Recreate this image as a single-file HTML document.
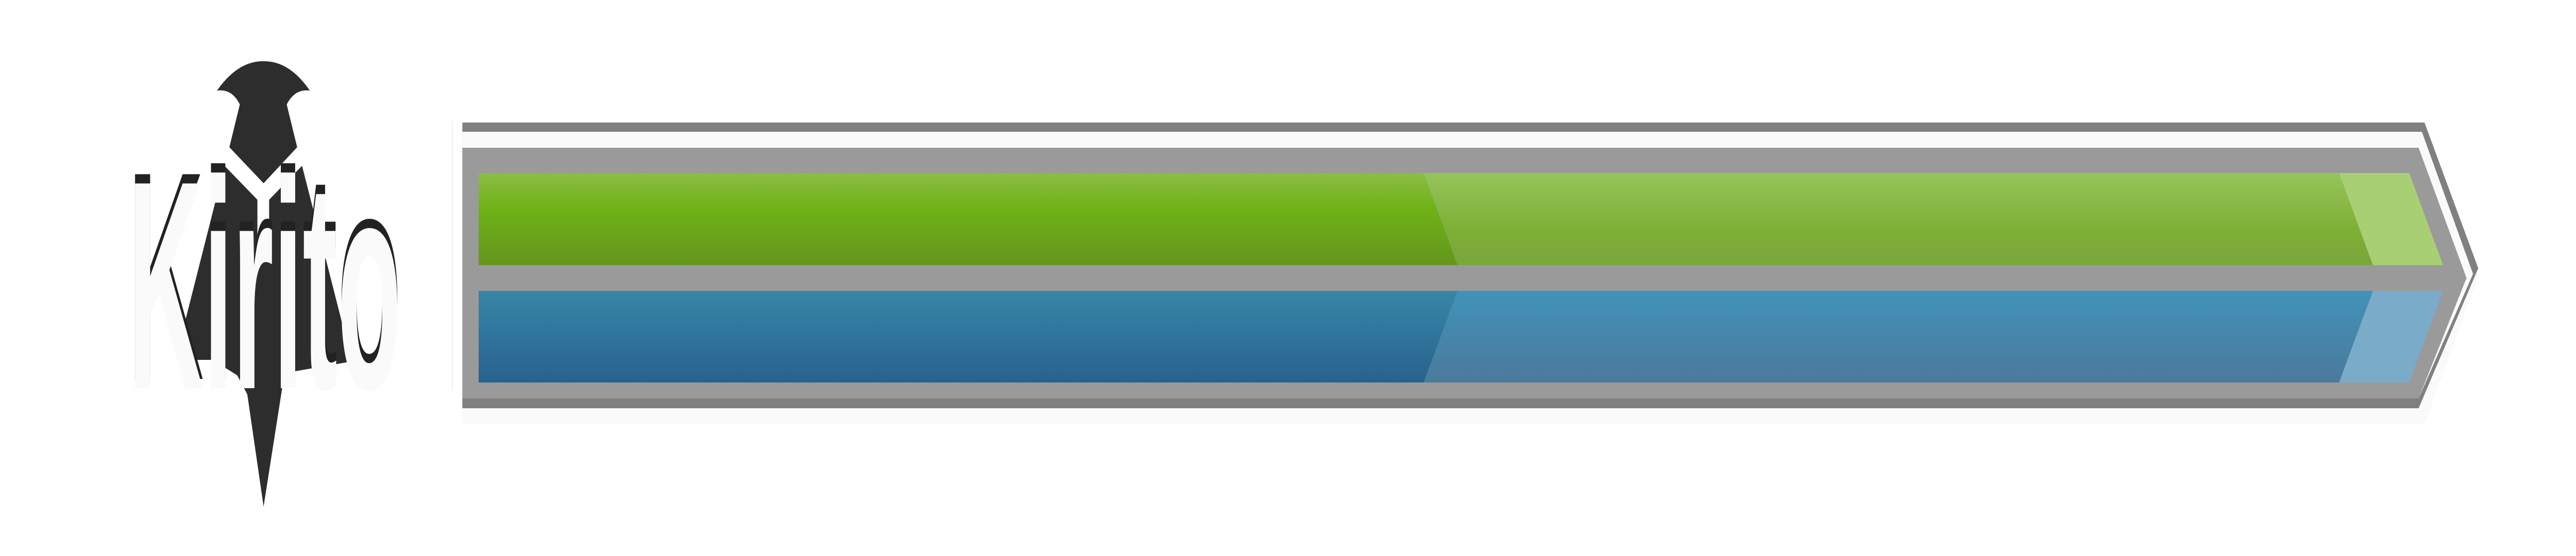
<!DOCTYPE html>
<html><head><meta charset="utf-8"><title>Kirito progress</title>
<style>html,body{margin:0;padding:0;background:#fff;width:100%;height:100%;overflow:hidden;}svg{display:block;width:100vw;height:100vh;}</style></head>
<body>
<svg id="chart" xmlns="http://www.w3.org/2000/svg" viewBox="0 0 7906 1080" preserveAspectRatio="none">
<defs>
<linearGradient id="gDark" x1="0" y1="0" x2="0" y2="1"><stop offset="0" stop-color="#8bbd45"/><stop offset="0.38" stop-color="#6fb317"/><stop offset="1" stop-color="#64951f"/></linearGradient>
<linearGradient id="gMid" x1="0" y1="0" x2="0" y2="1"><stop offset="0" stop-color="#96c45c"/><stop offset="0.6" stop-color="#7fb035"/><stop offset="1" stop-color="#7aa63e"/></linearGradient>
<linearGradient id="bDark" x1="0" y1="0" x2="0" y2="1"><stop offset="0" stop-color="#3886a8"/><stop offset="1" stop-color="#27628e"/></linearGradient>
<linearGradient id="bMid" x1="0" y1="0" x2="0" y2="1"><stop offset="0" stop-color="#4192b9"/><stop offset="1" stop-color="#4b7a9b"/></linearGradient>
</defs>
<g>
<path fill="#2d2d2d" d="M666 176 Q730 118 809 119 Q888 118 951 176 Q905 172 880 203 L736 203 Q712 172 666 176 Z"/>
<polygon fill="#2d2d2d" points="736,203 880,203 912,286 809,356 704,286"/>
<polygon fill="#2d2d2d" points="689,322 790,388 790,499 826,499 826,388 927,322 1080,702 889,723 866,754 809,984 759,766 728,729 652,699 552,699 549,672"/>
<text x="393" y="736" font-family="Liberation Sans, sans-serif" font-weight="bold" font-size="578" textLength="839" lengthAdjust="spacingAndGlyphs" fill="#222">Kirito</text>
<text x="393" y="754" font-family="Liberation Sans, sans-serif" font-weight="bold" font-size="578" textLength="839" lengthAdjust="spacingAndGlyphs" fill="#fafafa">Kirito</text>
</g>
<rect x="1387" y="234" width="2" height="525" fill="#e4e4e4"/>
<g>
<polygon fill="#fafafa" points="1419,256 7441,256 7606,538 7441,824 1419,824"/>
<polygon fill="#808080" points="1419,238 7441,238 7606,521 7423,793 1419,793"/>
<polygon fill="#fafafa" points="1419,256 7433,256 7590,532 7423,774 1419,774"/>
<polygon fill="#9a9a9a" points="1419,287 7423,287 7570,540 7423,774 1419,774"/>
</g>
<g id="bars"></g>
</svg>
<script>
const series = ['green-bar', 'blue-bar'];
const progress = [49.4, 49.4];
const buffered = [96.4, 96.4];
const barEnd = [100, 100];

const NS = 'http://www.w3.org/2000/svg';
const X0 = 1469, SPAN = 5977, LEAN = 104;
function xScale(v) { return X0 + v / 100 * SPAN; }
const rowsY = [[336, 515], [565, 743]];
const fills = [['url(#gDark)', 'url(#gMid)', '#a9cf75'], ['url(#bDark)', 'url(#bMid)', '#7aabc8']];
const bars = document.getElementById('bars');
function edge(v, dir, top) {
  const m = xScale(v);
  return top ? m - dir * LEAN / 2 : m + dir * LEAN / 2;
}
series.forEach(function (name, i) {
  const y0 = rowsY[i][0], y1 = rowsY[i][1];
  const dir = i === 0 ? 1 : -1;
  const segs = [[null, progress[i]], [progress[i], buffered[i]], [buffered[i], barEnd[i]]];
  const segNames = ['progress', 'buffered', 'remaining'];
  segs.forEach(function (s, k) {
    const lt = s[0] === null ? X0 : edge(s[0], dir, true);
    const lb = s[0] === null ? X0 : edge(s[0], dir, false);
    const rt = edge(s[1], dir, true);
    const rb = edge(s[1], dir, false);
    const p = document.createElementNS(NS, 'polygon');
    p.setAttribute('points', lt + ',' + y0 + ' ' + rt + ',' + y0 + ' ' + rb + ',' + y1 + ' ' + lb + ',' + y1);
    p.setAttribute('fill', fills[i][k]);
    
    
    bars.appendChild(p);
  });
});
</script>
</body></html>
